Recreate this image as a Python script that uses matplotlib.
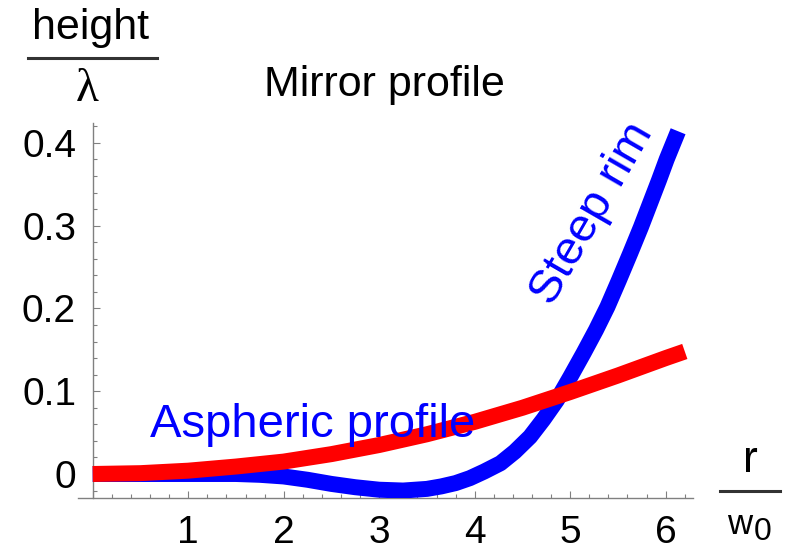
import matplotlib
matplotlib.use("Agg")
import matplotlib.pyplot as plt
from matplotlib.lines import Line2D
from matplotlib.ticker import MultipleLocator, FixedLocator

plt.rcParams['font.family'] = ['Liberation Sans', 'DejaVu Sans']

# Steep rim (blue) profile
r_blue = [0, 0.5, 1.0, 1.5, 1.75, 2.0, 2.25, 2.5, 2.75, 3.0, 3.25, 3.5, 3.65,
          3.8, 3.95, 4.1, 4.27, 4.42, 4.58, 4.72, 4.86, 5.0, 5.14, 5.27, 5.39,
          5.51, 5.63, 5.74, 5.84, 5.93, 6.01, 6.07, 6.13]
h_blue = [0, 0, 0, 0, -0.001, -0.003, -0.007, -0.012, -0.016, -0.019, -0.020,
          -0.018, -0.015, -0.011, -0.005, 0.003, 0.013, 0.027, 0.045, 0.066,
          0.089, 0.117, 0.146, 0.174, 0.202, 0.234, 0.267, 0.298, 0.328, 0.355,
          0.380, 0.397, 0.414]

# Aspheric (red) profile
r_red = [0, 0.5, 1.0, 1.5, 2.0, 2.5, 3.0, 3.5, 4.0, 4.5, 5.0, 5.5, 6.0, 6.2]
h_red = [0, 0.001, 0.004, 0.009, 0.015, 0.024, 0.035, 0.048, 0.063, 0.080,
         0.099, 0.119, 0.140, 0.148]

x_ticks = [1, 2, 3, 4, 5, 6]
x_ticklabels = ["1", "2", "3", "4", "5", "6"]
y_ticks = [0, 0.1, 0.2, 0.3, 0.4]
y_ticklabels = ["0", "0.1", "0.2", "0.3", "0.4"]

fig = plt.figure(figsize=(7.91, 5.51), dpi=100)
ax = fig.add_axes([0.0991, 0.0962, 0.7775, 0.6806])
ax.set_xlim(-0.15, 6.29)
ax.set_ylim(-0.029, 0.424)

ax.plot(r_blue, h_blue, color='#0000ff', lw=11.5, solid_capstyle='butt',
        solid_joinstyle='round', zorder=3)
ax.plot(r_red, h_red, color='#ff0000', lw=11.5, solid_capstyle='butt',
        solid_joinstyle='round', zorder=4)

for s in ['top', 'right']:
    ax.spines[s].set_visible(False)
ax.spines['left'].set_position(('data', 0))
ax.spines['left'].set_color('#808080')
ax.spines['bottom'].set_color('#808080')
ax.spines['left'].set_linewidth(1.0)
ax.spines['bottom'].set_linewidth(1.0)

ax.xaxis.set_major_locator(FixedLocator([0] + x_ticks))
ax.set_xticklabels([""] + x_ticklabels)
ax.xaxis.set_minor_locator(MultipleLocator(0.2))
ax.yaxis.set_major_locator(FixedLocator(y_ticks))
ax.set_yticklabels(y_ticklabels)
ax.yaxis.set_minor_locator(MultipleLocator(0.02))

ax.tick_params(which='both', direction='in', color='#808080', width=0.8)
ax.tick_params(which='major', length=5, labelsize=28)
ax.tick_params(which='minor', length=3)
ax.tick_params(axis='x', which='major', pad=12)
ax.tick_params(axis='y', which='major', pad=12)

ax.text(0.6, 0.045, "Aspheric profile", color='#0000ff', fontsize=34,
        va='baseline', zorder=5)
ax.text(5.23, 0.314, "Steep rim", color='#0000ff', fontsize=34, rotation=60,
        ha='center', va='center', rotation_mode='anchor', zorder=5)

fig.text(384 / 791, 1 - 85 / 551, "Mirror profile", fontsize=31,
         ha='center', va='center')
fig.text(91 / 791, 1 - 28 / 551, "height", fontsize=31, ha='center', va='center')
fig.add_artist(Line2D([28 / 791, 157 / 791], [1 - 58 / 551, 1 - 58 / 551],
                      color='#333333', lw=2.2, transform=fig.transFigure))
fig.text(87 / 791, 1 - 90 / 551, "λ", fontsize=34, ha='center', va='center',
         family=['Liberation Serif', 'DejaVu Serif'])

fig.text(750 / 791, 1 - 461 / 551, "r", fontsize=32, ha='center', va='center')
fig.add_artist(Line2D([720 / 791, 780 / 791], [1 - 491 / 551, 1 - 491 / 551],
                      color='#333333', lw=2.2, transform=fig.transFigure))
fig.text(740 / 791, 1 - 525 / 551, "w", fontsize=25, ha='center', va='center')
fig.text(763 / 791, 1 - 532 / 551, "0", fontsize=23, ha='center', va='center')

fig.savefig("out.png", dpi=100)
